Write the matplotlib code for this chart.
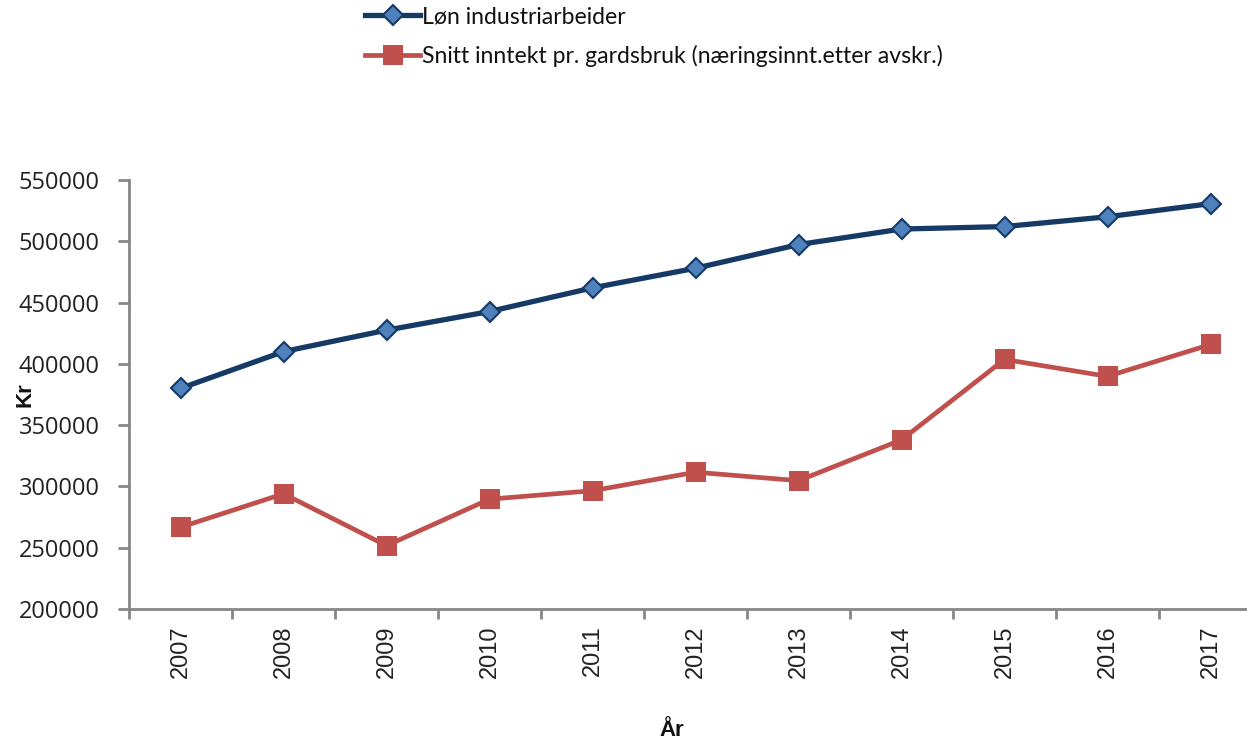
import matplotlib
matplotlib.use("Agg")
import matplotlib.pyplot as plt
from matplotlib.ticker import FixedLocator, NullFormatter, FixedFormatter

years = ["2007", "2008", "2009", "2010", "2011", "2012", "2013", "2014", "2015", "2016", "2017"]
lonn_industri = [380000, 410000, 427500, 442700, 462000, 478000, 497300, 510000, 512000, 520000, 530700]
snitt_gardsbruk = [266700, 294000, 251700, 289600, 296500, 311600, 304700, 338000, 403600, 389800, 415800]
series_names = ["Løn industriarbeider", "Snitt inntekt pr. gardsbruk (næringsinnt.etter avskr.)"]
y_ticks = [200000, 250000, 300000, 350000, 400000, 450000, 500000, 550000]

W, H = 1247, 747
fig = plt.figure(figsize=(W / 100, H / 100), dpi=100)
ax = fig.add_axes([129 / W, (H - 609) / H, (1262 - 129) / W, (609 - 180) / H])

x = list(range(len(years)))
blue_line = "#163A66"
blue_face = "#4F81BD"
red = "#C0504D"
gray = "#868686"

l1, = ax.plot(x, lonn_industri, color=blue_line, lw=3.8, marker="D", ms=10,
              mfc=blue_face, mec=blue_line, mew=1.5, solid_joinstyle="round", zorder=3)
l2, = ax.plot(x, snitt_gardsbruk, color=red, lw=3.4, marker="s", ms=14,
              mfc=red, mec=red, mew=0, zorder=3)

ax.set_xlim(-0.5, len(years) - 0.5)
ax.set_ylim(200000, 550000)
for s in ["top", "right"]:
    ax.spines[s].set_visible(False)
for s in ["left", "bottom"]:
    ax.spines[s].set_color(gray)
    ax.spines[s].set_linewidth(2)

ax.yaxis.set_major_locator(FixedLocator(y_ticks))
ax.set_yticklabels([str(v) for v in y_ticks])
ax.tick_params(axis="y", length=8, width=2, color=gray, pad=13, labelsize=17, labelcolor="#222222")

ax.xaxis.set_major_locator(FixedLocator([i - 0.5 for i in range(len(years) + 1)]))
ax.xaxis.set_major_formatter(NullFormatter())
ax.xaxis.set_minor_locator(FixedLocator(x))
ax.xaxis.set_minor_formatter(FixedFormatter(years))
ax.tick_params(axis="x", which="major", length=7, width=2, color=gray)
ax.tick_params(axis="x", which="minor", length=0, pad=12, labelsize=17, labelrotation=90, labelcolor="#222222")
for lab in ax.xaxis.get_minorticklabels():
    lab.set_fontfamily("Liberation Sans")
for lab in ax.yaxis.get_majorticklabels():
    lab.set_fontfamily("Open Sans")

fig.text(25 / W, (H - 395) / H, "Kr", rotation=90, ha="center", va="center",
         fontsize=16, fontweight="bold", family="Liberation Sans", color="#111111")
fig.text(672 / W, (H - 731) / H, "År", ha="center", va="center",
         fontsize=16, fontweight="bold", family="Liberation Sans", color="#111111")

leg = fig.legend([l1, l2], series_names, loc="upper left",
                 bbox_to_anchor=(365 / W, 1 - 6 / H), frameon=False,
                 prop={"family": "Lato", "size": 16.6}, handlelength=2.4,
                 handletextpad=0.08, labelspacing=0.78, borderaxespad=0, borderpad=0)
for t in leg.get_texts():
    t.set_color("#111111")

fig.savefig("out.png", dpi=100)
